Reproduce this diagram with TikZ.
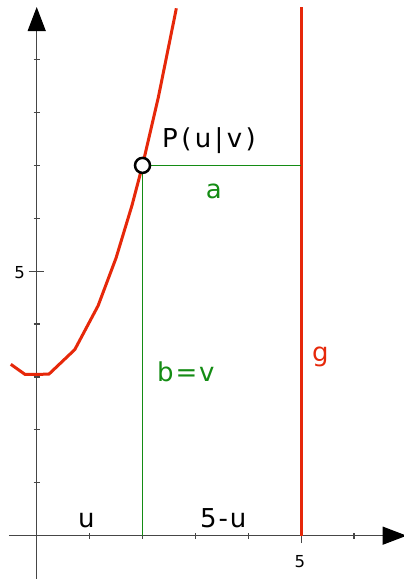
\documentclass[tikz,border=0pt]{standalone}
\usepackage{fontspec}
\setmainfont{DejaVu Sans}
\newfontfamily\lab[LetterSpace=7]{DejaVu Sans}
\newfontfamily\labwide[LetterSpace=13]{DejaVu Sans}
\usetikzlibrary{arrows.meta}
\definecolor{myred}{RGB}{230,40,10}
\definecolor{mygreen}{RGB}{20,140,20}
\definecolor{axisgray}{RGB}{70,70,70}
\begin{document}
\begin{tikzpicture}[x=52.9pt,y=52.9pt,
  axis/.style={draw=axisgray,line width=1.2pt},
  tickmark/.style={draw=axisgray,line width=1.2pt},
  curve/.style={draw=myred,line width=3pt,line join=round},
  helper/.style={draw=mygreen,line width=1.3pt},
  lbl/.style={inner sep=0pt,font=\lab\fontsize{26}{30}\selectfont},
  small/.style={inner sep=0pt,font=\fontsize{16.5}{19}\selectfont},
  arr/.style={-{Triangle[length=24pt,width=18pt,color=black]}}]
\useasboundingbox (-0.694,-0.819) rectangle (6.943,10.127);
% axes
\coordinate (xs) at (-0.524,0);
\coordinate (xe) at (6.994,0);
\coordinate (ys) at (0,-0.85);
\coordinate (ye) at (0,9.994);
\draw[axis,arr] (xs) -- (xe);
\draw[axis,arr] (ys) -- (ye);
% ticks
\foreach \i in {1,2,3,4,6} \draw[tickmark] (\i,0) ++(0pt,-3pt) -- ++(0pt,6pt);
\draw[tickmark] (5,0) ++(0pt,-7.5pt) -- ++(0pt,10.5pt);
\foreach \j in {1,2,3,4,6,7,8,9} \draw[tickmark] (0,\j) ++(-3pt,0pt) -- ++(6pt,0pt);
\draw[tickmark] (0,5) ++(-8pt,0pt) -- ++(15pt,0pt);
\node[small,anchor=base east] (ylab) at (-0.221,4.853) {5};
\node[small,anchor=base] (xlab) at (4.977,-0.61) {5};
% line g
\coordinate (g0) at (5,0);
\coordinate (g1) at (5,9.99);
\coordinate (gP) at (5,7);
\coordinate (uP) at (2,0);
\draw[draw=myred,line width=3pt] (g0) -- (g1);
% helper lines
\draw[helper] (2,7) -- (gP);
\draw[helper] (2,7) -- (uP);
% curve y = x^2 + 3
\draw[curve] plot coordinates {(-0.49,3.24) (-0.22,3.048) (0.23,3.053) (0.72,3.518) (1.16,4.346) (1.5,5.25) (1.8,6.24) (2.0,7.0) (2.3,8.29) (2.64,9.97)};
% point P
\node[circle,draw=black,fill=white,line width=2.5pt,minimum size=15pt,inner sep=0pt] (P) at (2,7) {};
% labels
\node[lbl,font=\labwide\fontsize{26}{30}\selectfont,anchor=base west] (Plab) at (2.369,7.329) {P(u|v)};
\node[lbl,anchor=base,text=mygreen] (alab) at (3.35,6.38) {a};
\node[lbl,anchor=base west,text=mygreen] (blab) at (2.274,2.906) {b=v};
\node[lbl,anchor=base west,text=myred] (glab) at (5.204,3.284) {g};
\node[lbl,anchor=base] (ulab) at (0.94,0.146) {u};
\node[lbl,anchor=base west] (u5lab) at (3.087,0.146) {5-u};
\end{tikzpicture}
\end{document}
